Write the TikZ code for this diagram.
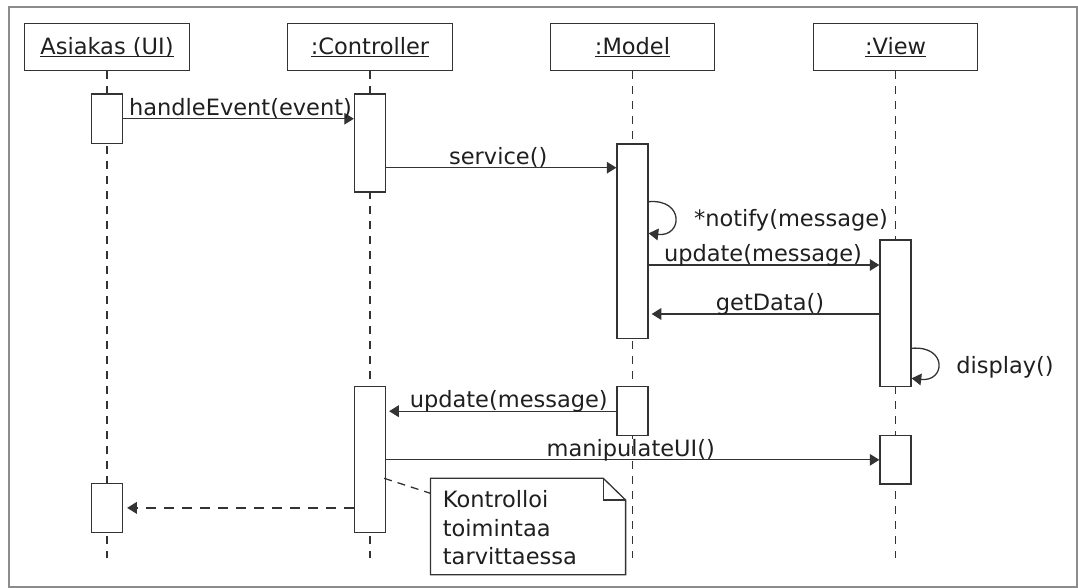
\documentclass[tikz,border=0pt]{standalone}
\usepackage{fontspec}
\setmainfont{DejaVu Sans}
\usetikzlibrary{arrows.meta}
\definecolor{ln}{rgb}{0.2,0.2,0.2}
\definecolor{framegray}{rgb}{0.55,0.55,0.55}
\definecolor{txt}{rgb}{0.12,0.12,0.12}
\newsavebox\ulbox
\newcommand\ulin[1]{\sbox\ulbox{#1}\rlap{\rule[-1.3pt]{\wd\ulbox}{0.5pt}}\usebox\ulbox}
\tikzset{
  head/.style={draw=ln, line width=0.65pt, fill=white, inner sep=0pt,
    minimum width=82.3pt, minimum height=23.7pt},
  act/.style={draw=ln, line width=0.65pt, fill=white, inner sep=0pt,
    minimum width=15.5pt},
  lifeline/.style={draw=ln, line width=0.65pt, dash pattern=on 4pt off 3.5pt},
  msg/.style={draw=ln, line width=0.65pt, -{Triangle[length=4.8pt,width=5.8pt]}},
  retmsg/.style={msg, dash pattern=on 5pt off 4pt},
  lbl/.style={anchor=base, inner sep=0pt, yshift=1.75pt},
  notelink/.style={draw=ln, line width=0.65pt, dash pattern=on 4pt off 3pt},
  frame/.style={draw=framegray, line width=1pt}
}
\begin{document}
\begin{tikzpicture}[x=0.5pt, y=-0.5pt, text=txt,
  font=\fontsize{11.25pt}{14.25pt}\selectfont]
\useasboundingbox (0,0) rectangle (1078,588);
\draw[frame] (8.6,7) rectangle (1077,587);

% object headers
\node[head] (hA) at (107,47) {\ulin{Asiakas (UI)}};
\node[head] (hC) at (370,47) {\ulin{:Controller}};
\node[head] (hM) at (632.5,47) {\ulin{:Model}};
\node[head] (hV) at (895.5,47) {\ulin{:View}};

% lifelines
\coordinate (lend) at (0,558);
\draw[lifeline] (hA.south) -- (hA.south |- lend);
\draw[lifeline] (hC.south) -- (hC.south |- lend);
\draw[lifeline] (hM.south) -- (hM.south |- lend);
\draw[lifeline] (hV.south) -- (hV.south |- lend);

% activation bars
\node[act, minimum height=24.75pt] (a1) at (107,118.75) {};
\node[act, minimum height=49pt]    (c1) at (370,143) {};
\node[act, minimum height=97.25pt] (m1) at (632.5,241.25) {};
\node[act, minimum height=73.35pt] (v1) at (895.5,313.35) {};
\node[act, minimum height=72.8pt]  (c2) at (370,459.5) {};
\node[act, minimum height=24.5pt]  (m2) at (632.5,411.2) {};
\node[act, minimum height=24.15pt] (v2) at (895.5,459.85) {};
\node[act, minimum height=24.4pt]  (a2) at (107,507.9) {};

% message rows
\coordinate (ySV) at (0,167.7);
\coordinate (yN1) at (0,201.7);
\coordinate (yN2) at (0,233.3);
\coordinate (yUP) at (0,265);
\coordinate (yGD) at (0,314);
\coordinate (yD1) at (0,348.3);
\coordinate (yD2) at (0,378.3);

\draw[msg] (a1.east) -- (c1.west |- a1.east)
  node[lbl, midway, xshift=1pt] {handleEvent(event)};
\draw[msg] (c1.east |- ySV) -- (m1.west |- ySV)
  node[lbl, midway, xshift=-1.5pt] {service()};
\draw[msg] (m1.east |- yN1) .. controls +(36,-3) and +(34,4) .. (m1.east |- yN2);
\node[anchor=center, inner sep=0pt] (nlab) at (791,220) {*notify(message)};
\draw[msg] (m1.east |- yUP) -- (v1.west |- yUP)
  node[lbl, midway, xshift=-0.5pt] {update(message)};
\draw[msg, shorten >=1.5pt] (v1.west |- yGD) -- (m1.east |- yGD)
  node[lbl, midway, xshift=3pt] {getData()};
\draw[msg] (v1.east |- yD1) .. controls +(36,-3) and +(34,4) .. (v1.east |- yD2);
\node[anchor=center, inner sep=0pt] (dlab) at (1005,367) {display()};
\draw[msg, shorten >=1.5pt] (m2.west) -- (c2.east |- m2.west)
  node[lbl, midway, xshift=3.75pt] {update(message)};
\draw[msg] (c2.east |- v2.west) -- (v2.west)
  node[lbl, midway, xshift=-1pt] {manipulateUI()};
\draw[retmsg, shorten >=2pt] (c2.west |- a2.east) -- (a2.east);

% note
\node[anchor=north west, inner sep=0pt, minimum width=97.2pt,
  minimum height=47.85pt] (note) at (430.4,478.3) {};
\draw[draw=ln, line width=0.65pt, fill=white]
  (note.north west) -- ([xshift=-11.15pt]note.north east)
  -- ([yshift=-10.85pt]note.north east) -- (note.south east)
  -- (note.south west) -- cycle;
\draw[draw=ln, line width=0.65pt]
  ([xshift=-11.15pt]note.north east) -- ([xshift=-11.15pt,yshift=-10.85pt]note.north east)
  -- ([yshift=-10.85pt]note.north east);
\node[anchor=north west, inner sep=0pt, align=left] (notetext) at (442.5,490.4)
  {Kontrolloi\\toimintaa\\tarvittaessa};
\draw[notelink] ([xshift=-1pt]c2.east |- note.north west) -- ([yshift=-7.5pt]note.north west);
\end{tikzpicture}
\end{document}
